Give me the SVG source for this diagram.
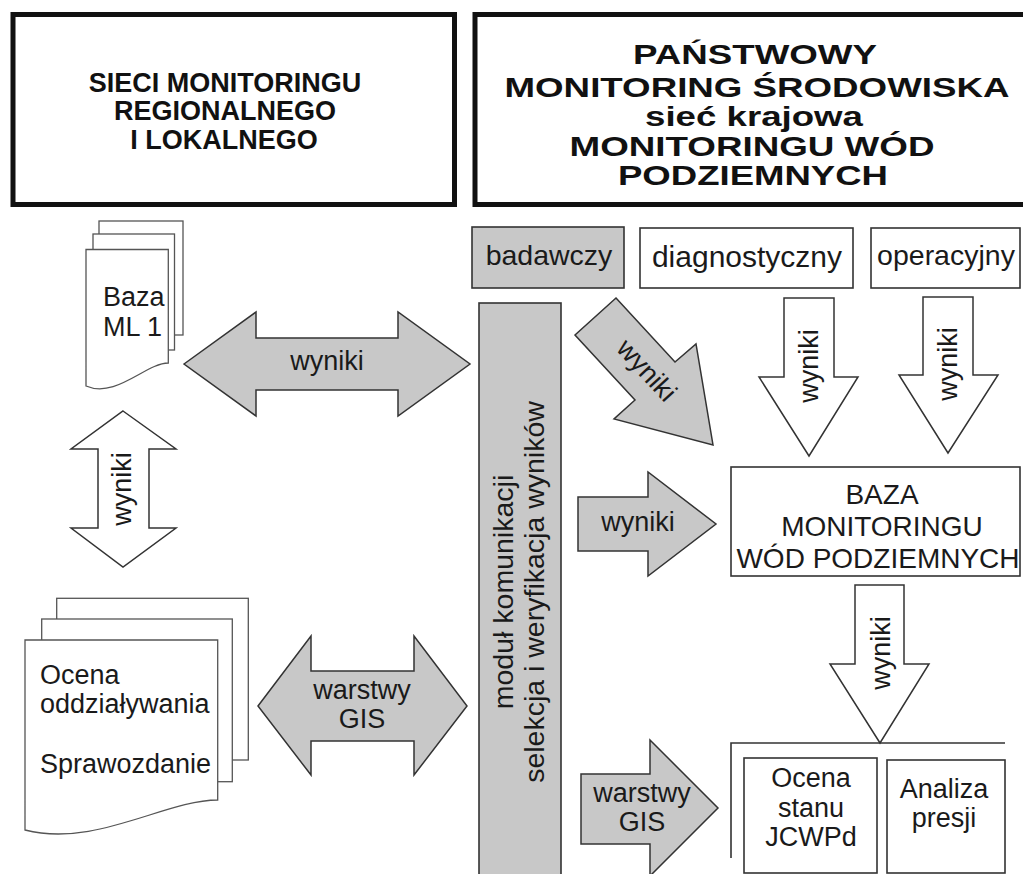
<svg xmlns="http://www.w3.org/2000/svg" width="1023" height="874" viewBox="0 0 1023 874">
<style>
.big{fill:#fff;stroke:#111;stroke-width:5}
.box{fill:#fff;stroke:#333;stroke-width:1.6}
.gbox{fill:#c8c8c8;stroke:#333;stroke-width:1.6}
.ga{fill:#c8c8c8;stroke:#333;stroke-width:1.5;stroke-linejoin:miter}
.wa{fill:#fff;stroke:#333;stroke-width:1.5;stroke-linejoin:miter}
.pg{fill:#fff;stroke:#555;stroke-width:1.3}
.ln{fill:none;stroke:#333;stroke-width:1.6}
.t{font-family:"Liberation Sans",Arial,sans-serif;font-size:27px;fill:#1a1a1a}
.m{text-anchor:middle}
.hb{font-family:"Liberation Sans",Arial,sans-serif;font-size:27px;font-weight:bold;fill:#111;text-anchor:middle}
.hr{font-size:28px}
</style>
<rect width="1023" height="874" fill="#fff"/>

<g id="regional">
<rect class="big" x="13" y="14.5" width="441.5" height="190"/>
<text class="hb" x="225" y="92">SIECI MONITORINGU</text>
<text class="hb" x="225" y="120">REGIONALNEGO</text>
<text class="hb" x="224" y="149">I LOKALNEGO</text>
</g>

<g id="national">
<rect class="big" x="475" y="14.5" width="560" height="190"/>
<text class="hb hr" x="755" y="64" textLength="244" lengthAdjust="spacingAndGlyphs">PAŃSTWOWY</text>
<text class="hb hr" x="757" y="97" textLength="505" lengthAdjust="spacingAndGlyphs">MONITORING ŚRODOWISKA</text>
<text class="hb hr" x="754" y="126" textLength="218" lengthAdjust="spacingAndGlyphs">sieć krajowa</text>
<text class="hb hr" x="752" y="156" textLength="365" lengthAdjust="spacingAndGlyphs">MONITORINGU WÓD</text>
<text class="hb hr" x="753" y="185" textLength="270" lengthAdjust="spacingAndGlyphs">PODZIEMNYCH</text>
</g>

<g id="bazaML1">
<rect class="pg" x="99" y="221" width="84" height="114"/>
<rect class="pg" x="93" y="234" width="81.5" height="116"/>
<path class="pg" d="M86,249.5 H168.3 V363 C146,363 116,399 86,386 Z"/>
<text class="t" x="103" y="306">Baza</text>
<text class="t" x="103" y="336">ML 1</text>
</g>

<g id="raporty">
<rect class="pg" x="56.7" y="598.3" width="191.6" height="161.7"/>
<rect class="pg" x="41.7" y="619" width="190.6" height="162.7"/>
<path class="pg" d="M25,640 H217.7 V800 C165,800 95,848 25,830 Z"/>
<text class="t" x="40" y="684">Ocena</text>
<text class="t" x="40" y="713">oddziaływania</text>
<text class="t" x="40" y="773">Sprawozdanie</text>
</g>

<g id="badawczy">
<rect class="gbox" x="472" y="227" width="152" height="61"/>
<text class="t m" x="549" y="265" style="font-size:28.5px">badawczy</text>
</g>
<g id="diagnostyczny">
<rect class="box" x="640" y="228" width="213" height="60"/>
<text class="t m" x="747" y="267" style="font-size:30px">diagnostyczny</text>
</g>
<g id="operacyjny">
<rect class="box" x="871" y="228" width="149" height="60"/>
<text class="t m" x="946" y="265" style="font-size:28.5px">operacyjny</text>
</g>

<g id="modul">
<rect class="gbox" x="479" y="303" width="82" height="590"/>
<text class="t m" transform="translate(513,592) rotate(-90)" x="0" y="0" style="font-size:28.5px">moduł komunikacji</text>
<text class="t m" transform="translate(544,592) rotate(-90)" x="0" y="0" style="font-size:28.5px">selekcja i weryfikacja wyników</text>
</g>

<g id="bazaMWP">
<rect class="box" x="731" y="467" width="289" height="109"/>
<text class="t m" x="882" y="504" style="font-size:28px">BAZA</text>
<text class="t m" x="882" y="536" style="font-size:28px">MONITORINGU</text>
<text class="t m" x="878" y="568" style="font-size:28px">WÓD PODZIEMNYCH</text>
</g>

<g id="ocenaStanu">
<rect class="box" x="744" y="758" width="133" height="115"/>
<text class="t m" x="811" y="787">Ocena</text>
<text class="t m" x="811" y="817">stanu</text>
<text class="t m" x="811" y="846">JCWPd</text>
</g>
<g id="analizaPresji">
<rect class="box" x="887" y="760" width="118" height="113"/>
<text class="t m" x="944" y="798">Analiza</text>
<text class="t m" x="944" y="827">presji</text>
</g>

<g id="connectors">
<polygon class="ga" points="184,364 256,312 256,338 398,338 398,312 470,364 398,416 398,390 256,390 256,416"/>
<text class="t m" x="327" y="370">wyniki</text>

<polygon class="wa" points="123,411 176,449 149,449 149,528 176,528 123,567 71,528 98,528 98,449 71,449"/>
<text class="t m" transform="translate(131,489) rotate(-90)" x="0" y="0">wyniki</text>

<polygon class="ga" points="616,298 675,362 696,344 713,445 614,419 635,400 575,335"/>
<text class="t m" transform="translate(646,371) rotate(47.3)" x="0" y="8">wyniki</text>

<polygon class="wa" points="784,298 834,298 834,377 858,377 809,456 759,377 784,377"/>
<text class="t m" transform="translate(818,366) rotate(-90)" x="0" y="0">wyniki</text>

<polygon class="wa" points="923,297 973,297 973,375 998,375 948,453 899,375 923,375"/>
<text class="t m" transform="translate(957,364) rotate(-90)" x="0" y="0">wyniki</text>

<polygon class="ga" points="578,497 648,497 648,472 716,524 648,576 648,551 578,551"/>
<text class="t m" x="638" y="531">wyniki</text>

<polygon class="wa" points="855,585 904,585 904,664 929,664 880,743 830,664 855,664"/>
<text class="t m" transform="translate(890,653) rotate(-90)" x="0" y="0">wyniki</text>

<path class="ln" d="M731,858 V743 H1005"/>

<polygon class="ga" points="258,706 311,636 311,671 414,671 414,636 467,706 414,775 414,741 311,741 311,775"/>
<text class="t m" x="362" y="699">warstwy</text>
<text class="t m" x="362" y="728">GIS</text>

<polygon class="ga" points="581,774 650,774 650,740 718,808 650,876 650,844 581,844"/>
<text class="t m" x="642" y="802">warstwy</text>
<text class="t m" x="642" y="831">GIS</text>
</g>
</svg>
